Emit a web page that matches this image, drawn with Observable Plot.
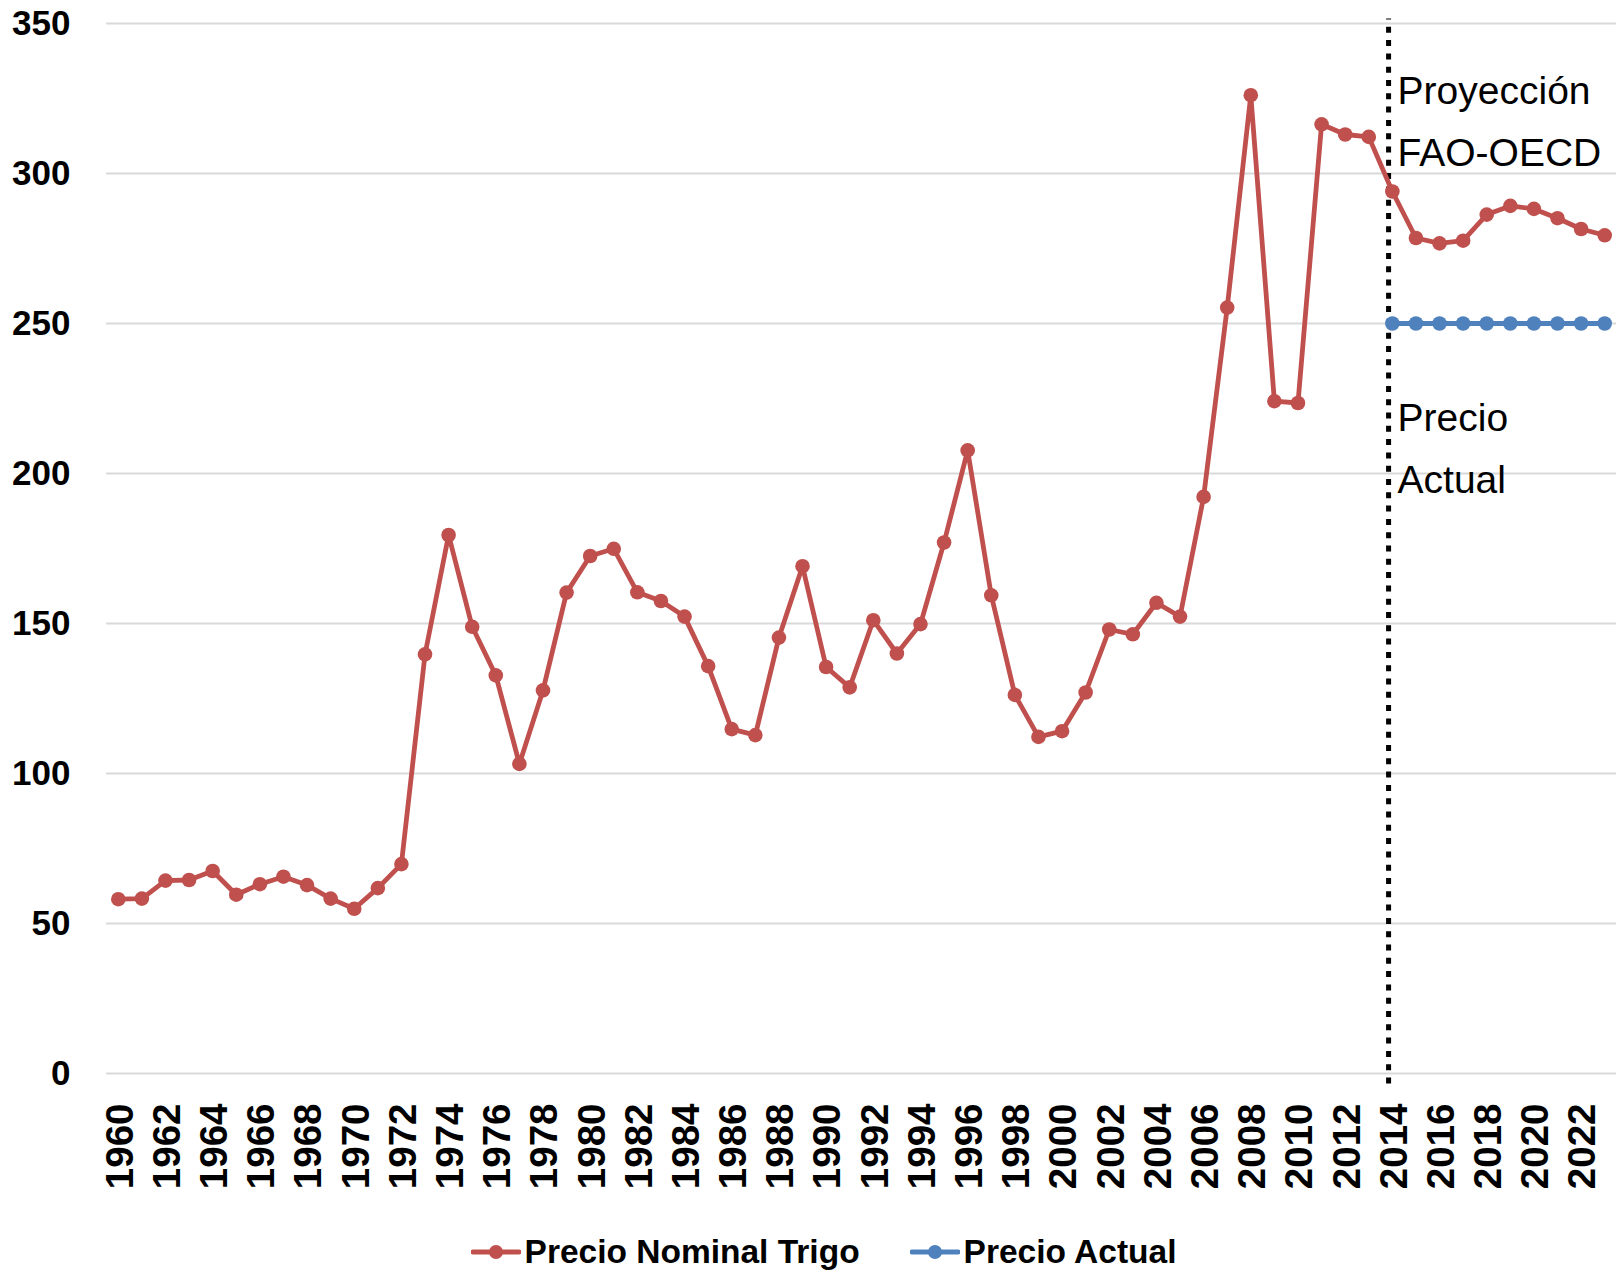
<!DOCTYPE html>
<html>
<head>
<meta charset="utf-8">
<script src="https://cdn.jsdelivr.net/npm/d3@7"></script>
<script src="https://cdn.jsdelivr.net/npm/@observablehq/plot@0.6"></script>
<style>
  html, body { margin: 0; padding: 0; background: #fff; }
  #chart svg { display: block; }
  .legend { display: flex; justify-content: center; align-items: center; height: 60px; padding-left: 28px;
    font-family: 'Liberation Sans', Arial, sans-serif; font-weight: bold; font-size: 33.5px; color: #000; }
  .legend .item { display: flex; align-items: center; margin: 0 25px; }
  .legend svg { margin-right: 4px; }
</style>
</head>
<body>
<div id="chart"></div>
<div class="legend" id="legend"></div>
<script>
const years = [1960,1961,1962,1963,1964,1965,1966,1967,1968,1969,1970,1971,1972,1973,1974,1975,1976,1977,1978,1979,
  1980,1981,1982,1983,1984,1985,1986,1987,1988,1989,1990,1991,1992,1993,1994,1995,1996,1997,1998,1999,
  2000,2001,2002,2003,2004,2005,2006,2007,2008,2009,2010,2011,2012,2013,2014,2015,2016,2017,2018,2019,
  2020,2021,2022,2023];
const precioNominal = [58.1,58.3,64.3,64.5,67.5,59.6,63.1,65.6,62.8,58.3,54.9,61.8,69.8,139.7,179.5,148.9,132.7,103.2,127.7,160.3,
  172.5,174.9,160.4,157.5,152.3,135.8,114.8,112.8,145.3,169.1,135.5,128.7,151.1,140.0,149.8,177.0,207.7,159.4,126.2,112.2,
  114.1,127.0,148.0,146.4,156.9,152.3,192.2,255.3,326.1,224.1,223.5,316.4,313.0,312.2,294.0,278.5,276.7,277.6,286.3,289.2,
  288.2,285.1,281.5,279.4];
const actualYears = [2014,2015,2016,2017,2018,2019,2020,2021,2022,2023];
const precioActual = [250,250,250,250,250,250,250,250,250,250];
const yTicks = [0,50,100,150,200,250,300,350];
const xTicks = [1960,1962,1964,1966,1968,1970,1972,1974,1976,1978,1980,1982,1984,1986,1988,1990,1992,1994,1996,1998,
  2000,2002,2004,2006,2008,2010,2012,2014,2016,2018,2020,2022];
const seriesNames = ["Precio Nominal Trigo", "Precio Actual"];
const seriesColors = ["#c0504d", "#4f81bd"];
const projectionYear = 2013.84;
const annotations = ["Proyección\nFAO-OECD", "Precio\nActual"];

const nominal = years.map((y, i) => ({year: y, value: precioNominal[i]}));
const actual = actualYears.map((y, i) => ({year: y, value: precioActual[i]}));

const font = "'Liberation Sans', Arial, sans-serif";

const chart = Plot.plot({
  width: 1619,
  height: 1222,
  marginLeft: 106,
  marginRight: 3,
  marginTop: 23,
  marginBottom: 149,
  style: {fontFamily: font, background: "#fff", color: "#000"},
  x: {type: "linear", domain: [1959.5, 2023.5]},
  y: {domain: [0, 350]},
  marks: [
    Plot.gridY(yTicks, {stroke: "#d9d9d9", strokeOpacity: 1, strokeWidth: 2}),
    Plot.axisY(yTicks, {tickSize: 0, tickPadding: 36, fontSize: 35, fontWeight: "bold", fill: "#000", label: null}),
    Plot.axisX(xTicks, {tickSize: 0, tickPadding: 30, tickRotate: -90, fontSize: 38.5, fontWeight: "bold", fill: "#000",
      tickFormat: d => String(d), label: null, dx: 2}),
    Plot.ruleX([projectionYear], {y1: -3.5, y2: 351.5, stroke: "#000", strokeWidth: 5, strokeDasharray: "6,7.3"}),
    Plot.line(nominal, {x: "year", y: "value", stroke: seriesColors[0], strokeWidth: 4.8}),
    Plot.dot(nominal, {x: "year", y: "value", r: 7.3, fill: seriesColors[0], stroke: "none"}),
    Plot.line(actual, {x: "year", y: "value", stroke: seriesColors[1], strokeWidth: 4.8}),
    Plot.dot(actual, {x: "year", y: "value", r: 7.3, fill: seriesColors[1], stroke: "none"}),
    Plot.text([annotations[0]], {x: projectionYear, y: 319.5, dx: 9, textAnchor: "start", fontSize: 39,
      lineHeight: 1.6, fill: "#000", fontFamily: font}),
    Plot.text([annotations[1]], {x: projectionYear, y: 210.5, dx: 9, textAnchor: "start", fontSize: 39,
      lineHeight: 1.6, fill: "#000", fontFamily: font})
  ]
});
document.getElementById("chart").appendChild(chart);

const legend = d3.select("#legend");
seriesNames.forEach((name, i) => {
  const item = legend.append("div").attr("class", "item");
  const sw = item.append("svg").attr("width", 50).attr("height", 20);
  sw.append("line").attr("x1", 2).attr("x2", 48).attr("y1", 10).attr("y2", 10)
    .attr("stroke", seriesColors[i]).attr("stroke-width", 5).attr("stroke-linecap", "round");
  sw.append("circle").attr("cx", 25).attr("cy", 10).attr("r", 7).attr("fill", seriesColors[i]);
  item.append("span").text(name);
});
</script>
</body>
</html>
